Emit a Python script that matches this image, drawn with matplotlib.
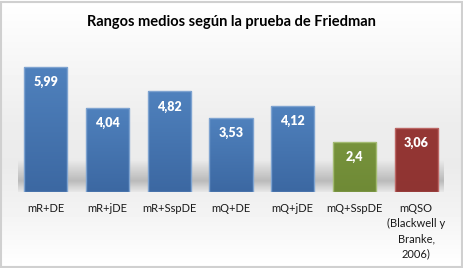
import matplotlib
matplotlib.use("Agg")
import matplotlib.pyplot as plt
import numpy as np
from matplotlib.patches import Rectangle
from matplotlib.colors import to_rgb

categories = ["mR+DE", "mR+jDE", "mR+SspDE", "mQ+DE", "mQ+jDE", "mQ+SspDE",
              "mQSO\n(Blackwell y\nBranke,\n2006)"]
values = [5.99, 4.04, 4.82, 3.53, 4.12, 2.4, 3.06]
value_labels = ["5,99", "4,04", "4,82", "3,53", "4,12", "2,4", "3,06"]
top_colors = ["#4f81bd"] * 5 + ["#77933c", "#953735"]
bottom_colors = ["#3c68a2"] * 5 + ["#6f8a36", "#8f3432"]
edges = ["#7ea3d0"] * 5 + ["#a3bb72", "#bb6664"]

W, H = 463, 268
fig = plt.figure(figsize=(W / 100, H / 100), dpi=100)
fig.patch.set_facecolor("white")

# background gradient of the chart area
bg = fig.add_axes([0, 0, 1, 1], zorder=0)
rows = np.linspace(0, 1, 268)
shade = np.interp(rows, [0, 0.1, 0.45, 0.62, 0.78, 1.0],
                  [1.0, 0.985, 0.93, 0.92, 0.95, 1.0])
img = np.repeat(shade[:, None], 10, axis=1)
bg.imshow(img, cmap="gray", vmin=0, vmax=1, aspect="auto",
          extent=[0, 1, 0, 1], origin="upper")
bg.add_patch(Rectangle((0.002, 0.004), 0.996, 0.99, fill=False,
                       edgecolor="#d0d0d0", linewidth=1.5))
bg.set_xlim(0, 1)
bg.set_ylim(0, 1)
bg.axis("off")

ax = fig.add_axes([15 / W, (H - 192) / H, (447 - 15) / W, (192 - 46) / H], zorder=1)
ax.patch.set_alpha(0)
x = np.arange(len(categories))

# soft floor shadow behind the bars
sh = np.interp(np.linspace(0, 1, 80), [0, 0.35, 0.6, 1], [0.05, 0.32, 0.2, 0.0])
sh_img = np.zeros((80, 2, 4))
sh_img[..., :3] = 0.3
sh_img[..., 3] = sh[:, None]
ax.imshow(sh_img, aspect="auto", extent=[-0.45, len(categories) - 0.55, 0, 1.5],
          origin="lower", zorder=1, interpolation="bilinear")

bars = ax.bar(x, values, width=0.7, color="none", edgecolor=edges,
              linewidth=1, zorder=3)

# vertical gradient inside each bar
for b, c1, c2 in zip(bars, top_colors, bottom_colors):
    t = np.linspace(0, 1, 50)[:, None]
    grad = (1 - t) * np.array(to_rgb(c2)) + t * np.array(to_rgb(c1))
    grad = grad[:, None, :].repeat(2, axis=1).reshape(50, 2, 3)
    im = ax.imshow(grad, aspect="auto", origin="lower", zorder=2,
                   extent=[b.get_x(), b.get_x() + b.get_width(), 0, b.get_height()],
                   interpolation="bilinear")
    im.set_clip_path(b)

ax.set_xlim(-0.5, len(categories) - 0.5)
ax.set_ylim(0, 7)

for xi, v, lab in zip(x, values, value_labels):
    ax.annotate(lab, (xi, v), xytext=(0, -15), textcoords="offset pixels",
                ha="center", va="center", color="white", fontsize=9,
                fontweight="heavy", family="Lato", zorder=4)

ax.set_xticks(x)
ax.set_xticklabels(categories, fontsize=8, family="Lato", color="#1a1a1a",
                   linespacing=1.45, va="top")
ax.tick_params(axis="x", length=0, pad=8)
ax.set_yticks([])
for s in ax.spines.values():
    s.set_visible(False)

fig.text(231 / W, 1 - 22 / H, "Rangos medios según la prueba de Friedman",
         ha="center", va="center", fontsize=10.5, fontweight="bold",
         family="Lato", color="black")

fig.savefig("out.png", dpi=100)
